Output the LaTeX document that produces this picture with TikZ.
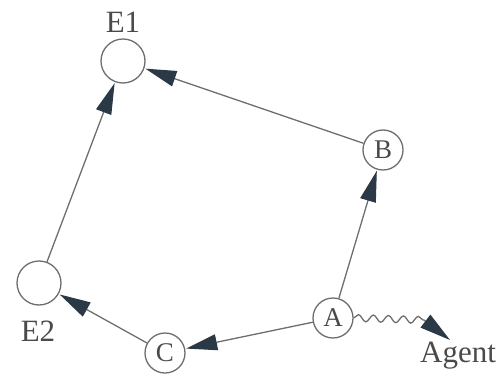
\documentclass[tikz,border=0pt]{standalone}
\usepackage{fontspec}
\setmainfont{Liberation Serif}
\usetikzlibrary{arrows.meta,decorations.pathmorphing}
\definecolor{linec}{HTML}{6E6E6E}
\definecolor{headc}{HTML}{2B3845}
\definecolor{txtc}{HTML}{4A4A4A}
\begin{document}
\begin{tikzpicture}[x=1pt,y=-1pt,
  st/.style={circle,draw=linec,line width=1.3pt,minimum size=40pt,inner sep=0pt,text=txtc,font=\fontsize{27}{30}\selectfont},
  lbl/.style={text=txtc,font=\fontsize{31}{34}\selectfont,inner sep=0pt},
  arr/.style={draw=linec,line width=1.3pt,-{Triangle[length=31pt,width=16pt,color=headc]},shorten >=1pt}]
\useasboundingbox (0,0) rectangle (502,382);
\node[st,minimum size=44pt] (E1) at (123,61) {};
\node[st,minimum size=44pt] (E2) at (39,283) {};
\node[st] (B) at (383,150) {B};
\node[st] (A) at (333,318) {A};
\node[st] (C) at (165,353) {C};
\node[lbl] (e1l) at (123,22) {E1};
\node[lbl] (e2l) at (38,331) {E2};
\node[lbl] (agl) at (458,356) {Agent};
\coordinate (w) at (424,320);
\coordinate (tip) at (450,340);
\draw[arr] (E2) -- (E1);
\draw[arr] (B) -- (E1);
\draw[arr] (A) -- (B);
\draw[arr] (A) -- (C);
\draw[arr] (C) -- (E2);
\draw[arr,shorten >=0pt] (A.east) decorate[decoration={snake,amplitude=3.5pt,segment length=15pt}]{-- (w)} -- (tip);
\end{tikzpicture}
\end{document}
